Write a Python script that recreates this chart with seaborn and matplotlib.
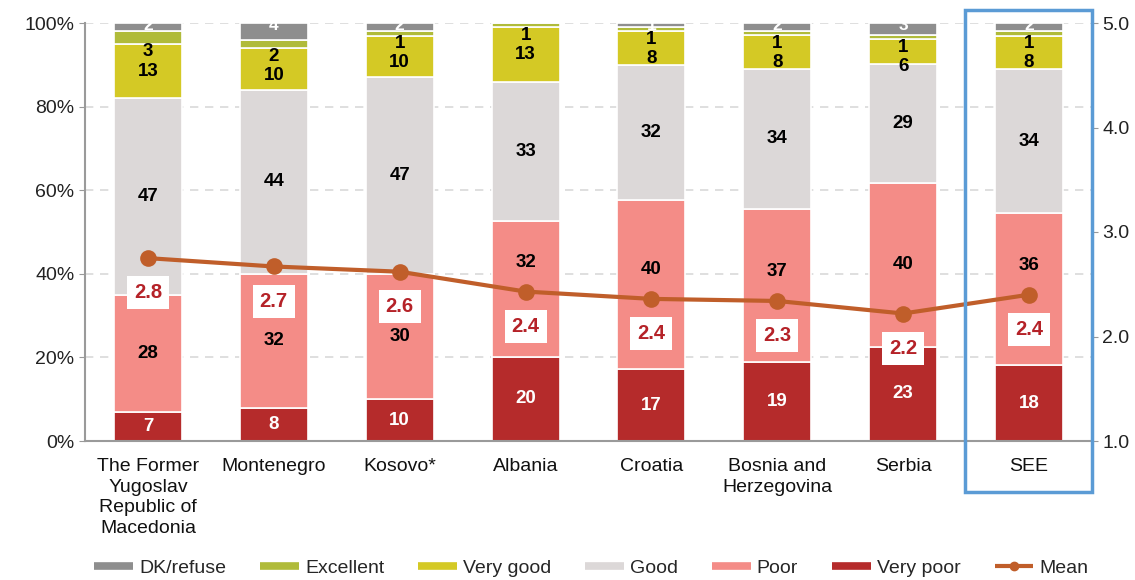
import numpy as np
import pandas as pd
import matplotlib
matplotlib.use("Agg")
import matplotlib.pyplot as plt
import seaborn as sns
from matplotlib.lines import Line2D
from matplotlib.patches import Rectangle

sns.set_style("white")
plt.rcParams['font.family'] = ['Liberation Sans', 'DejaVu Sans']

categories = ["The Former\nYugoslav\nRepublic of\nMacedonia", "Montenegro", "Kosovo*",
              "Albania", "Croatia", "Bosnia and\nHerzegovina", "Serbia", "SEE"]
very_poor = [7, 8, 10, 20, 17, 19, 23, 18]
poor      = [28, 32, 30, 32, 40, 37, 40, 36]
good      = [47, 44, 47, 33, 32, 34, 29, 34]
very_good = [13, 10, 10, 13, 8, 8, 6, 8]
excellent = [3, 2, 1, 1, 1, 1, 1, 1]
dk_refuse = [2, 4, 2, 0, 1, 2, 3, 2]
mean_vals = [2.75, 2.67, 2.62, 2.43, 2.36, 2.34, 2.22, 2.40]

series = [("Very poor", very_poor, "#b52b2b", "white"),
          ("Poor", poor, "#f48c87", "black"),
          ("Good", good, "#dcd8d8", "black"),
          ("Very good", very_good, "#d4c925", "black"),
          ("Excellent", excellent, "#b0bb3a", "black"),
          ("DK/refuse", dk_refuse, "#8e8e8e", "white")]
mean_color = "#c05e2a"
label_red = "#b52228"

df = pd.DataFrame({name: vals for name, vals, _, _ in series}, index=categories)
totals = df.sum(axis=1)
pct = df.div(totals, axis=0) * 100  # 100% stacked

fig = plt.figure(figsize=(11.35, 5.8), dpi=100)
ax = fig.add_axes([85/1135, 1-441/580, (1092-85)/1135, (441-23)/580])

bottoms = np.zeros(len(categories))
tops = {}
for name, vals, color, tcolor in series:
    sns.barplot(x=categories, y=pct[name].values, bottom=bottoms, color=color,
                saturation=1, width=0.54, edgecolor="white", linewidth=1.2, ax=ax, zorder=2)
    tops[name] = (bottoms.copy(), bottoms + pct[name].values)
    bottoms = bottoms + pct[name].values

mean_pct = [(m - 1) / 4 * 100 for m in mean_vals]

# segment labels
for i in range(len(categories)):
    for name, vals, color, tcolor in series:
        b, t = tops[name][0][i], tops[name][1][i]
        v = vals[i]
        if v == 0:
            continue
        y = (b + t) / 2
        fs = 13.5
        if name == "Excellent":
            y = b - 1.9
        elif name == "Very good":
            y = min(y, t - 1.9 - 4.6)
        elif name == "Poor" and abs(y - mean_pct[i]) < 6:
            y = mean_pct[i] + 7
        elif name == "DK/refuse":
            y = t - 0.6
            fs = 12.5
        ax.text(i, y, f"{v}", ha="center", va="center", color=tcolor,
                fontsize=fs, fontweight="bold", zorder=5)

ax.set_ylim(0, 100)
ax.set_xlim(-0.5, len(categories) - 0.5)
ax.set_yticks([0, 20, 40, 60, 80, 100])
ax.set_yticklabels([f"{v}%" for v in [0, 20, 40, 60, 80, 100]], fontsize=14, color="#222222")
ax.set_xticks(range(len(categories)))
ax.set_xticklabels(categories, fontsize=14, color="#111111", linespacing=1.3)
ax.tick_params(axis="x", length=0, pad=12)
ax.tick_params(axis="y", length=4, color="#999999", left=True, direction="out")
ax.yaxis.grid(True, linestyle=(0, (5, 4)), color="#d9d9d9", linewidth=1.2, zorder=0)
ax.set_axisbelow(True)
for s in ["top", "right"]:
    ax.spines[s].set_visible(False)
for s in ["left", "bottom"]:
    ax.spines[s].set_color("#9a9a9a")
    ax.spines[s].set_linewidth(1.5)

# mean on secondary axis
ax2 = ax.twinx()
xpos = np.arange(len(categories))
sns.lineplot(x=xpos, y=mean_vals, color=mean_color, linewidth=3, marker="o",
             markersize=12, markeredgewidth=0, ax=ax2, zorder=6)
for i, m in enumerate(mean_vals):
    ax2.annotate(f"{m:.1f}", (i, m), xytext=(0, -25), textcoords="offset points",
                 ha="center", va="center", fontsize=14.5, fontweight="bold", color=label_red,
                 bbox=dict(boxstyle="square,pad=0.35", fc="white", ec="none"), zorder=7)
ax2.set_ylim(1, 5)
ax2.set_yticks([1, 2, 3, 4, 5])
ax2.set_yticklabels([f"{v:.1f}" for v in [1, 2, 3, 4, 5]], fontsize=14, color="#222222")
ax2.tick_params(axis="y", length=4, color="#999999", right=True, direction="out")
for s in ["top", "left", "bottom"]:
    ax2.spines[s].set_visible(False)
ax2.spines["right"].set_color("#9a9a9a")
ax2.spines["right"].set_linewidth(1.2)
ax2.set_ylabel("")

# highlight box around SEE
fig.patches.append(Rectangle((965/1135, 1-492/580), 127/1135, 482/580,
                             transform=fig.transFigure, fill=False,
                             edgecolor="#5b9bd5", linewidth=2.5, zorder=10))

# legend
handles = [Line2D([0], [0], color=c, linewidth=5.5, solid_capstyle="butt")
           for _, _, c, _ in reversed(series)]
labels = [n for n, _, _, _ in reversed(series)]
handles.append(Line2D([0], [0], color=mean_color, linewidth=3, marker="o", markersize=6,
                      solid_capstyle="butt"))
labels.append("Mean")
leg = fig.legend(handles, labels, loc="center", bbox_to_anchor=(0.521, 0.021), ncol=7,
                 frameon=False, fontsize=14, handlelength=2.0, handletextpad=0.3,
                 columnspacing=1.75)

fig.savefig("out.png", dpi=100)
